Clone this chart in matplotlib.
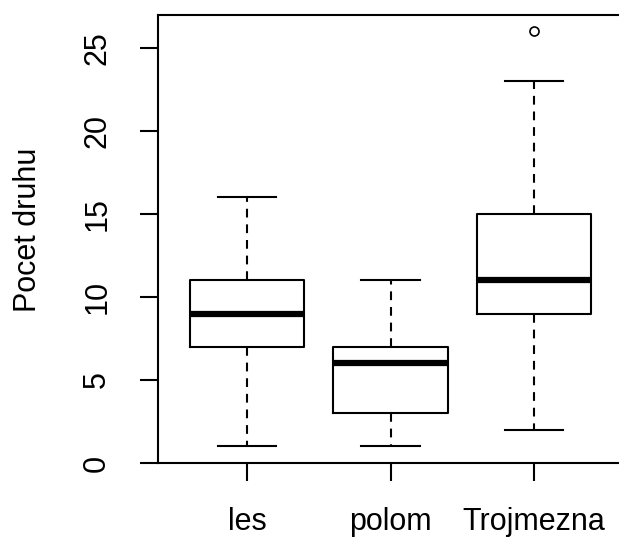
import matplotlib
matplotlib.use("Agg")
import matplotlib.pyplot as plt

categories = ["les", "polom", "Trojmezna"]
whislo = [1, 1, 2]
q1 = [7, 3, 9]
med = [9, 6, 11]
q3 = [11, 7, 15]
whishi = [16, 11, 23]
fliers = [[], [], [26]]
yticks = [0, 5, 10, 15, 20, 25]
ylabel = "Pocet druhu"

plt.rcParams['font.family'] = ['Liberation Sans', 'DejaVu Sans']

fig = plt.figure(figsize=(6.19, 5.38), dpi=100)
ax = fig.add_axes([158/619, 75/538, 465/619, 448.5/538])

stats = []
for i in range(len(categories)):
    stats.append(dict(label=categories[i], whislo=whislo[i], q1=q1[i], med=med[i],
                      q3=q3[i], whishi=whishi[i], fliers=fliers[i]))

lw = 1.5
ax.bxp(stats, positions=[1, 2, 3], widths=0.8, showfliers=True,
       boxprops=dict(color='black', linewidth=lw),
       medianprops=dict(color='black', linewidth=4.5, solid_capstyle='butt'),
       whiskerprops=dict(color='black', linewidth=lw, linestyle=(0, (4.2, 3.3))),
       capprops=dict(color='black', linewidth=lw),
       capwidths=0.41,
       flierprops=dict(marker='o', markersize=6.5, markerfacecolor='white',
                       markeredgecolor='black', markeredgewidth=1.2))

ax.set_xlim(0.38, 3.62)
ax.set_ylim(0, 27)
ax.set_yticks(yticks)
ax.set_yticklabels([str(v) for v in yticks], rotation=90, va='center')
ax.set_xticks([1, 2, 3])
ax.set_xticklabels(categories)
ax.tick_params(axis='both', direction='out', length=13, width=lw, labelsize=22, color='black')
ax.tick_params(axis='y', pad=20)
ax.tick_params(axis='x', pad=19)
for s in ax.spines.values():
    s.set_linewidth(lw)
    s.set_color('black')
ax.spines['right'].set_visible(False)
ax.set_ylabel(ylabel, fontsize=22)
ax.yaxis.set_label_coords(-0.247, 0.52)

fig.savefig("out.png", dpi=100)
